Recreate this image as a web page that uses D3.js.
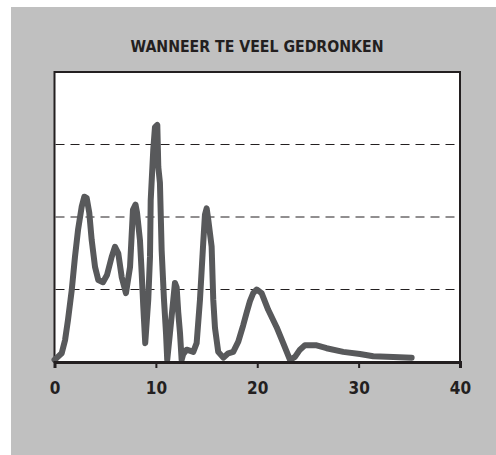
<html>
<script src='https://d3js.org/d3.v7.min.js'></script>
<style>
body {margin: 0; background: white;}
.title {font: bold 16px 'DejaVu Sans Condensed', 'DejaVu Sans', sans-serif; fill: #231f20;}
.tick text {font: bold 17px 'DejaVu Sans Condensed', 'DejaVu Sans', sans-serif; fill: #231f20;}
</style>
<body>
<svg width=496 height=455></svg>
<script>
// hours (x) and level (y)
var hours = [0, 0.25, 0.71, 1.04, 1.33, 1.7, 2.02, 2.32, 2.68, 2.94, 3.18, 3.43, 3.67, 4.0, 4.32, 4.78,
  5.18, 5.64, 5.97, 6.29, 6.63, 7.05, 7.45, 7.74, 7.99, 8.14, 8.43, 8.6, 8.76, 8.95, 9.25, 9.42,
  9.49, 9.74, 9.91, 10.14, 10.24, 10.4, 10.57, 10.8, 11.0, 11.12, 11.39, 11.72, 11.88, 12.05, 12.21,
  12.38, 12.54, 12.7, 13.04, 13.69, 14.02, 14.35, 14.67, 14.84, 15.01, 15.17, 15.5, 15.66, 15.83,
  16.15, 16.65, 17.14, 17.63, 18.13, 18.62, 18.95, 19.28, 19.6, 19.94, 20.43, 21.08, 21.91, 22.56, 23.23,
  23.72, 24.21, 24.7, 25.86, 26.84, 28.48, 30.13, 31.44, 33.41, 35.23];
var level = [0.03, 0.06, 0.12, 0.30, 0.58, 0.99, 1.45, 1.82, 2.14, 2.28, 2.26, 2.06, 1.68, 1.31, 1.13, 1.10,
  1.20, 1.45, 1.59, 1.50, 1.17, 0.95, 1.31, 2.10, 2.17, 2.06, 1.68, 1.23, 0.76, 0.26, 0.86, 1.45,
  2.23, 2.92, 3.24, 3.27, 2.69, 2.47, 1.54, 0.86, 0.40, 0.03, 0.40, 0.86, 1.09, 1.03, 0.68,
  0.40, 0.03, 0.11, 0.17, 0.14, 0.26, 0.86, 1.64, 2.03, 2.12, 1.96, 1.59, 0.86, 0.47,
  0.14, 0.06, 0.12, 0.14, 0.28, 0.51, 0.68, 0.84, 0.95, 1.00, 0.95, 0.72, 0.48, 0.26, 0.03,
  0.07, 0.17, 0.23, 0.23, 0.19, 0.14, 0.11, 0.08, 0.07, 0.06];
var xTicks = [0, 10, 20, 30, 40];
var gridLevels = [1, 2, 3];
var title = "WANNEER TE VEEL GEDRONKEN";

var svg = d3.select("svg");
var plotLeft = 54.5, plotRight = 460, plotTop = 72, plotBottom = 362;

svg.append("rect").attr("x", 11).attr("y", 7).attr("width", 485).attr("height", 448)
    .attr("fill", "#c0c0c0");

svg.append("rect").attr("x", plotLeft).attr("y", plotTop)
    .attr("width", plotRight - plotLeft).attr("height", plotBottom - plotTop)
    .attr("fill", "white").attr("stroke", "#231f20").attr("stroke-width", 2);

svg.append("text").attr("class", "title")
    .attr("x", 257).attr("y", 52)
    .attr("text-anchor", "middle")
    .attr("textLength", 253).attr("lengthAdjust", "spacingAndGlyphs")
    .text(title);

var x = d3.scaleLinear().domain([0, 40]).range([plotLeft, plotRight]);
var y = d3.scaleLinear().domain([0, 4]).range([plotBottom, plotTop]);

svg.append("g").selectAll("line").data(gridLevels).enter().append("line")
    .attr("x1", plotLeft + 1).attr("x2", plotRight - 1)
    .attr("y1", function(d) { return y(d); })
    .attr("y2", function(d) { return y(d); })
    .attr("stroke", "#231f20").attr("stroke-width", 1)
    .attr("stroke-dasharray", "9,6");

var points = hours.map(function(h, i) { return [h, level[i]]; });
var line = d3.line()
    .x(function(d) { return x(d[0]); })
    .y(function(d) { return y(d[1]); });

svg.append("path").datum(points)
    .attr("d", line)
    .attr("fill", "none")
    .attr("stroke", "#58595b")
    .attr("stroke-width", 6)
    .attr("stroke-linejoin", "round")
    .attr("stroke-linecap", "round");

var xAxis = svg.append("g")
    .attr("transform", "translate(0," + plotBottom + ")")
    .call(d3.axisBottom(x).tickValues(xTicks).tickSize(6).tickPadding(14).tickFormat(d3.format("d")));
xAxis.select(".domain").attr("stroke", "#231f20").attr("stroke-width", 3);
xAxis.selectAll(".tick line").attr("stroke", "#231f20").attr("stroke-width", 2);
</script>
</body>
</html>
